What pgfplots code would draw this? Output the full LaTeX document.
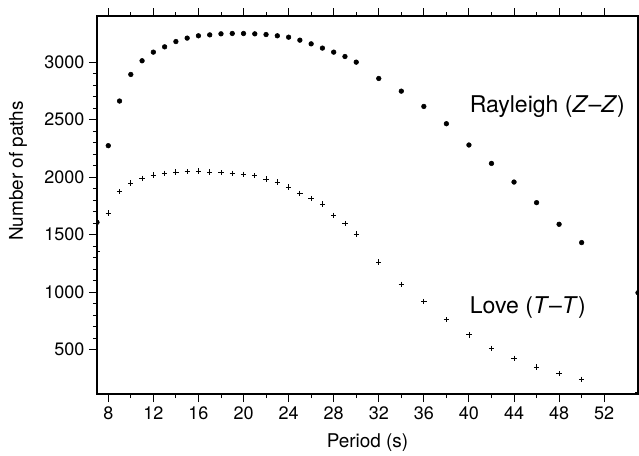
\documentclass[border=0pt]{standalone}
\usepackage{fontspec}
\setmainfont{TeX Gyre Heros}
\usepackage{pgfplots}
\usepackage{pgfplotstable}
\pgfplotsset{compat=1.18}
\pgfplotstableread{
x y
7 1607
8 2273
9 2661
10 2892
11 3011
12 3086
13 3132
14 3178
15 3208
16 3228
17 3236
18 3245
19 3248
20 3248
21 3245
22 3239
23 3228
24 3216
25 3190
26 3158
27 3121
28 3086
29 3048
30 2999
32 2857
34 2747
36 2614
38 2464
40 2279
42 2119
44 1957
46 1778
48 1590
50 1431
55 995
}\rayleigh
\pgfplotstableread{
x y
7 1355
8 1688
9 1873
10 1949
11 1989
12 2018
13 2033
14 2044
15 2047
16 2053
17 2044
18 2038
19 2033
20 2024
21 2012
22 1984
23 1958
24 1914
25 1859
26 1813
27 1767
28 1668
29 1596
30 1506
32 1263
34 1069
36 919
38 760
40 629
42 513
44 426
46 349
48 291
50 242
55 130
}\love
\begin{document}
\begin{tikzpicture}
\begin{axis}[
 at={(0pt,0pt)}, anchor=south west,
 scale only axis, width=405.75pt, height=283.5pt,
 xmin=7, xmax=55, ymin=115, ymax=3400,
 xtick={8,12,...,52}, minor x tick num=1,
 ytick={500,1000,...,3000}, minor y tick num=4,
 tick align=outside,
 xtick pos=both, ytick pos=left,
 major tick length=6pt, minor tick length=3pt,
 tick style={black, line width=0.7pt},
 axis line style={line width=0.9pt},
 /pgf/number format/assume math mode=true,
 /pgf/number format/set thousands separator={},
 ticklabel style={font=\fontsize{13.5}{16}\selectfont},
 label style={font=\fontsize{14.2}{16}\selectfont},
 xlabel={Period (s)}, ylabel={Number of paths},
 xlabel style={at={(axis description cs:0.5,-0.128)}, anchor=center},
 ylabel style={at={(axis description cs:-0.146,0.59)}, anchor=center},
 clip marker paths=true,
]
\addplot[only marks, mark=*, mark size=1.75pt, black] table[x=x,y=y] {\rayleigh};
\addplot[only marks, mark=+, mark size=2pt, black, line width=0.6pt] table[x=x,y=y] {\love};
\node[anchor=west, inner sep=0pt, font=\fontsize{17.3}{20}\selectfont] at (axis cs:40.06,2614) {Rayleigh (\textit{Z}--\textit{Z})};
\node[anchor=west, inner sep=0pt, font=\fontsize{17.3}{20}\selectfont] at (axis cs:40.06,864) {Love (\textit{T}--\textit{T})};
\end{axis}
\pgfresetboundingbox
\path[use as bounding box] (-72.75pt,-45.75pt) rectangle (406.5pt,295.5pt);
\end{tikzpicture}
\end{document}
